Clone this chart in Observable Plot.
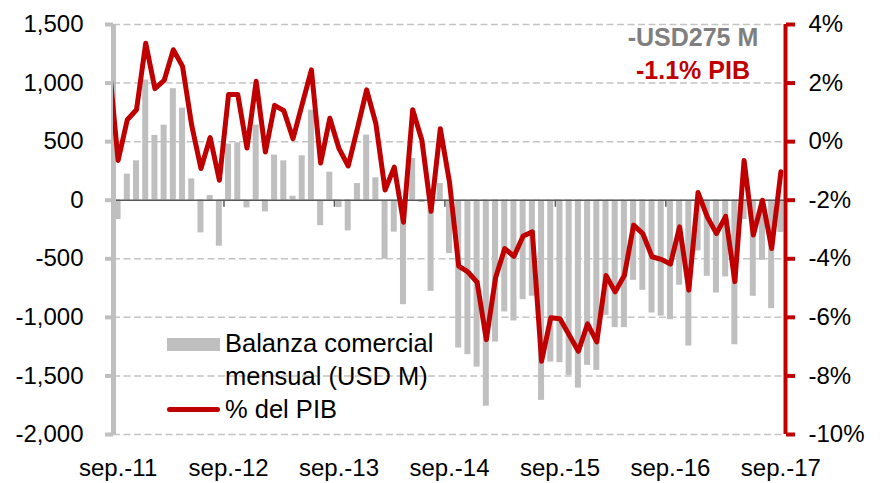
<!DOCTYPE html>
<html>
<head>
<meta charset="utf-8">
<script src="https://cdn.jsdelivr.net/npm/d3@7"></script>
<script src="https://cdn.jsdelivr.net/npm/@observablehq/plot@0.6"></script>
<style>
  body { margin: 0; background: #fff; }
  #wrap { position: relative; width: 883px; height: 483px; font-family: "Liberation Sans", Arial, sans-serif; }
  #wrap svg { display: block; }
  .legend { position: absolute; left: 167px; top: 327px; font-size: 25.5px; line-height: 33px; color: #000; }
  .legend .row { position: relative; padding-left: 58px; white-space: nowrap; }
  .sw-bar { position: absolute; left: 0; top: 11px; width: 53px; height: 13px; background: #bfbfbf; }
  .sw-line { position: absolute; left: 0; top: 14px; width: 53px; height: 5px; border-radius: 3px; background: #c00000; }
  .note { position: absolute; left: 593px; top: 21px; width: 200px; text-align: center; font-size: 25px; line-height: 33px; font-weight: bold; }
</style>
</head>
<body>
<div id="wrap"></div>
<script>
// Tick labels (one per September)
const tickLabels = ["sep.-11", "sep.-12", "sep.-13", "sep.-14", "sep.-15", "sep.-16", "sep.-17"];
// Monthly categories: sep-2011 .. sep-2017
const months = d3.utcMonth.range(new Date(Date.UTC(2011, 8, 1)), new Date(Date.UTC(2017, 9, 1)));
// Balanza comercial mensual (USD M)
const balance = [
  -165, 222, 336, 1026, 553, 641, 952, 786, 182, -279, 40, -393,
  479, 490, -66, 641, -100, 385, 336, 34, 379, 769, -217, 239,
  -63, -262, 142, 556, 191, -504, -273, -892, 356, -20, -778, 142,
  -456, -1262, -1319, -1425, -1758, -1211, -954, -1031, -849, -820, -1709, -1382,
  -1387, -1496, -1604, -1410, -1453, -983, -1088, -1088, -684, -769, -963, -989,
  -1020, -726, -1245, -433, -650, -792, -655, -1234, -165, -820, -513, -926, -275
];
// % del PIB (right axis)
const pctPIB = [
  -0.64, 0.75, 1.09, 3.36, 1.81, 2.09, 3.14, 2.57, 0.55, -0.92, 0.14, -1.32,
  1.61, 1.61, -0.22, 2.06, -0.35, 1.24, 1.06, 0.10, 1.28, 2.45, -0.73, 0.80,
  -0.24, -0.83, 0.45, 1.77, 0.62, -1.65, -0.87, -2.75, 1.09, 0.05, -2.38, 0.44,
  -1.38, -4.25, -4.45, -4.80, -6.76, -4.65, -3.65, -3.92, -3.22, -3.08, -7.50, -6.01,
  -6.05, -6.60, -7.16, -6.22, -6.84, -4.57, -5.13, -4.56, -2.85, -3.14, -3.93, -4.02,
  -4.18, -2.91, -5.07, -1.74, -2.57, -3.14, -2.55, -4.78, -0.64, -3.19, -2.00, -3.65, -1.03
];
// value of the month before sep-11 (line enters from the left edge)
const pctPrev = 2.7;

// Right axis (-10%..4%) shares the left axis range (-2000..1500)
const pctToY = p => (p + 2) * 250;
const yToPct = v => v / 250 - 2;
const fmtLeft = v => d3.format(",")(v).replace("\u2212", "-");
const fmtRight = v => `${yToPct(v)}%`.replace("\u2212", "-");

const rows = months.map((m, i) => ({ i, month: m, balance: balance[i], pct: pctPIB[i] }));
const lineRows = [{ i: -1, pct: pctPrev }, ...rows];
const yTicks = d3.range(-2000, 1501, 500);
const yearStarts = tickLabels.map((_, k) => k * 12);

const chart = Plot.plot({
  width: 883,
  height: 483,
  marginLeft: 113,
  marginRight: 98,
  marginTop: 24,
  marginBottom: 49,
  x: { domain: [0, months.length], axis: null },
  y: { domain: [-2000, 1500], axis: null },
  style: { fontFamily: "'Liberation Sans', Arial, sans-serif", fontSize: "24px", background: "#fff", color: "#000", overflow: "visible" },
  marks: [
    Plot.ruleY(yTicks, { stroke: "#c4c4c4", strokeWidth: 1.5, strokeDasharray: "7,3.5" }),
    Plot.rect(rows, { x1: d => d.i, x2: d => d.i + 1, y1: 0, y2: "balance", fill: "#bfbfbf", insetLeft: 1.6, insetRight: 1.6 }),
    Plot.ruleY([0], { stroke: "#595959", strokeWidth: 1.5 }),
    Plot.ruleX(yearStarts, { y1: 0, y2: -60, stroke: "#595959", strokeWidth: 1.5 }),
    Plot.ruleX([0], { stroke: "#bfbfbf", strokeWidth: 5 }),
    Plot.axisY({ anchor: "left", label: null, ticks: yTicks, tickFormat: fmtLeft, tickSize: 8, tickPadding: 22, stroke: "#bfbfbf", strokeWidth: 4, fill: "#000", fontSize: 24 }),
    Plot.line(lineRows, { x: d => d.i + 0.5, y: d => pctToY(d.pct), stroke: "#c00000", strokeWidth: 5, strokeLinejoin: "round", clip: true }),
    Plot.ruleX([months.length], { stroke: "#c00000", strokeWidth: 4 }),
    Plot.axisY({ anchor: "right", label: null, ticks: yTicks, tickFormat: fmtRight, tickSize: 9, tickPadding: 14, stroke: "#c00000", strokeWidth: 4, fill: "#000", fontSize: 24 }),
    Plot.axisX({ anchor: "bottom", label: null, ticks: yearStarts.map(k => k + 0.5), tickFormat: v => tickLabels[Math.floor(v / 12)], tickSize: 0, tickPadding: 24, fill: "#000", fontSize: 24 })
  ]
});

const wrap = document.getElementById("wrap");
wrap.appendChild(chart);

const legend = document.createElement("div");
legend.className = "legend";
legend.innerHTML =
  '<div class="row"><span class="sw-bar"></span>Balanza comercial</div>' +
  '<div class="row">mensual (USD M)</div>' +
  '<div class="row"><span class="sw-line"></span>% del PIB</div>';
wrap.appendChild(legend);

const note = document.createElement("div");
note.className = "note";
note.innerHTML = '<div style="color:#7f7f7f">-USD275 M</div><div style="color:#c00000">-1.1% PIB</div>';
wrap.appendChild(note);
</script>
</body>
</html>
